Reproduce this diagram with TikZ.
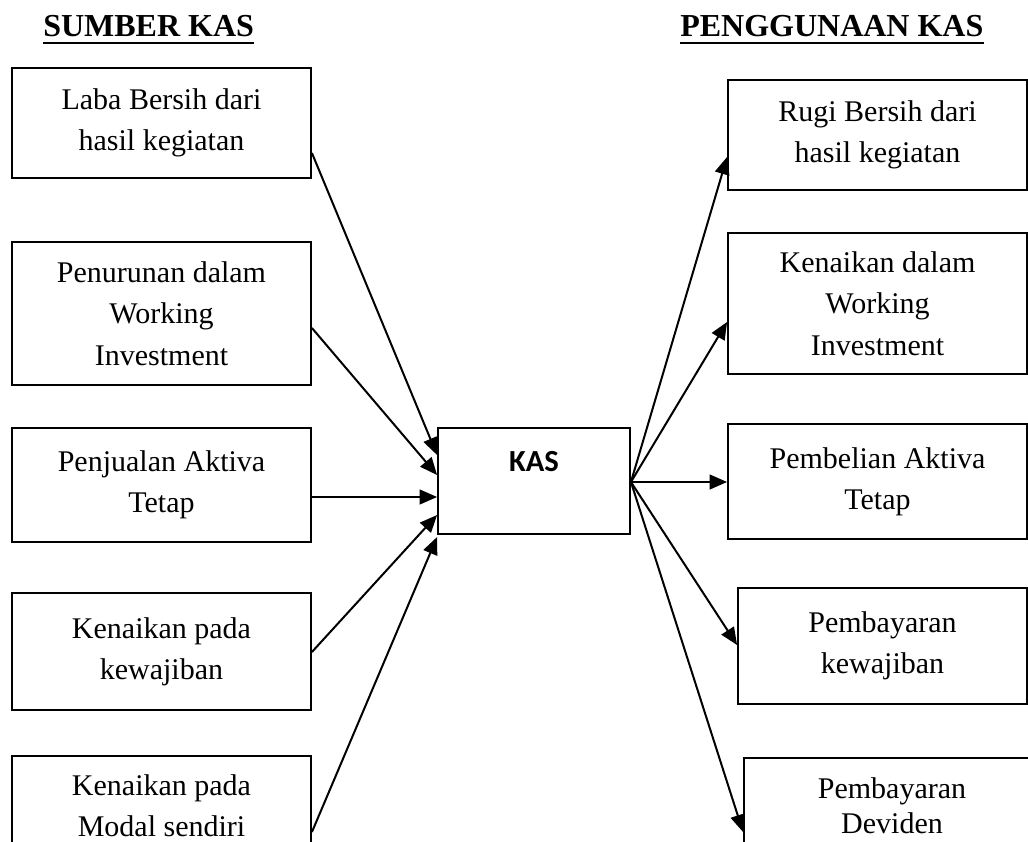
\documentclass[tikz,border=0pt]{standalone}
\usepackage{fontspec}
\setmainfont{Liberation Serif}
\newfontfamily\kasfont{Carlito}
\usetikzlibrary{arrows.meta}
\begin{document}
\begin{tikzpicture}[x=0.75pt,y=-0.75pt,
  box/.style={draw, line width=1.4pt, inner sep=0pt, align=center, minimum width=224.25pt, font=\fontsize{22.5}{31}\selectfont},
  arr/.style={line width=1.5pt, -{Triangle[length=13pt,width=11pt]}},
  ttl/.style={inner sep=0pt, anchor=base west, font=\bfseries\fontsize{24}{28}\selectfont},
  ul/.style={line width=1.5pt}]
\useasboundingbox (0,0) rectangle (1028,842);
\clip (0,0) rectangle (1028,842);
\fill[white] (0,0) rectangle (1028,842);

% titles
\node[ttl] (T1) at (43,37) {SUMBER KAS};
\node[ttl] (T2) at (680,37) {PENGGUNAAN KAS};
\draw[ul] ([yshift=-4.5pt]T1.base west) -- ([yshift=-4.5pt]T1.base east);
\draw[ul] ([yshift=-4.5pt]T2.base west) -- ([yshift=-4.5pt]T2.base east);

% left boxes
\node[box, minimum height=82.5pt] (L1) at (161.5,123) {Laba Bersih dari\\hasil kegiatan};
\node[box, minimum height=107.25pt] (L2) at (161.5,313.5) {Penurunan dalam\\Working\\Investment};
\node[box, minimum height=85.5pt] (L3) at (161.5,485) {Penjualan Aktiva\\Tetap};
\node[box, minimum height=87.75pt] (L4) at (161.5,651.5) {Kenaikan pada\\kewajiban};
\node[box, minimum height=75pt] (L5) at (161.5,806) {Kenaikan pada\\Modal sendiri};

% centre box
\node[draw, line width=1.4pt, inner sep=0pt, minimum width=144pt, text height=32.25pt, text depth=47.25pt,
      font=\kasfont\bfseries\fontsize{23}{27}\selectfont] (K) at (534,481) {KAS};

% right boxes
\node[box, minimum height=82.5pt] (R1) at (877.5,135) {Rugi Bersih dari\\hasil kegiatan};
\node[box, minimum height=105.75pt] (R2) at (877.5,303.5) {Kenaikan dalam\\Working\\Investment};
\node[box, minimum height=86.25pt] (R3) at (877.5,481.5) {Pembelian Aktiva\\Tetap};
\node[box, minimum width=216.75pt, minimum height=87pt] (R4) at (882.5,646) {Pembayaran\\kewajiban};
\node[box, minimum width=222pt, minimum height=72pt, font=\fontsize{22.5}{26.5}\selectfont] (R5) at (892,806) {Pembayaran\\Deviden};

% arrows into KAS
\draw[arr] (L1.east |- 0,153) -- (K.west |- 0,455);
\draw[arr] (L2.east |- 0,328) -- (K.west |- 0,475);
\draw[arr] (L3.east |- 0,497) -- (K.west |- 0,497);
\draw[arr] (L4.east |- 0,652) -- (K.west |- 0,515);
\draw[arr] (L5.east |- 0,832) -- (K.west |- 0,537);

% arrows out of KAS
\draw[arr] (K.east |- 0,482) -- (R1.west |- 0,157);
\draw[arr] (K.east |- 0,482) -- (R2.west |- 0,322);
\draw[arr] (K.east |- 0,482) -- (R3.west |- 0,482);
\draw[arr] (K.east |- 0,482) -- (R4.west |- 0,645);
\draw[arr] (K.east |- 0,482) -- (R5.west |- 0,832);
\end{tikzpicture}
\end{document}
